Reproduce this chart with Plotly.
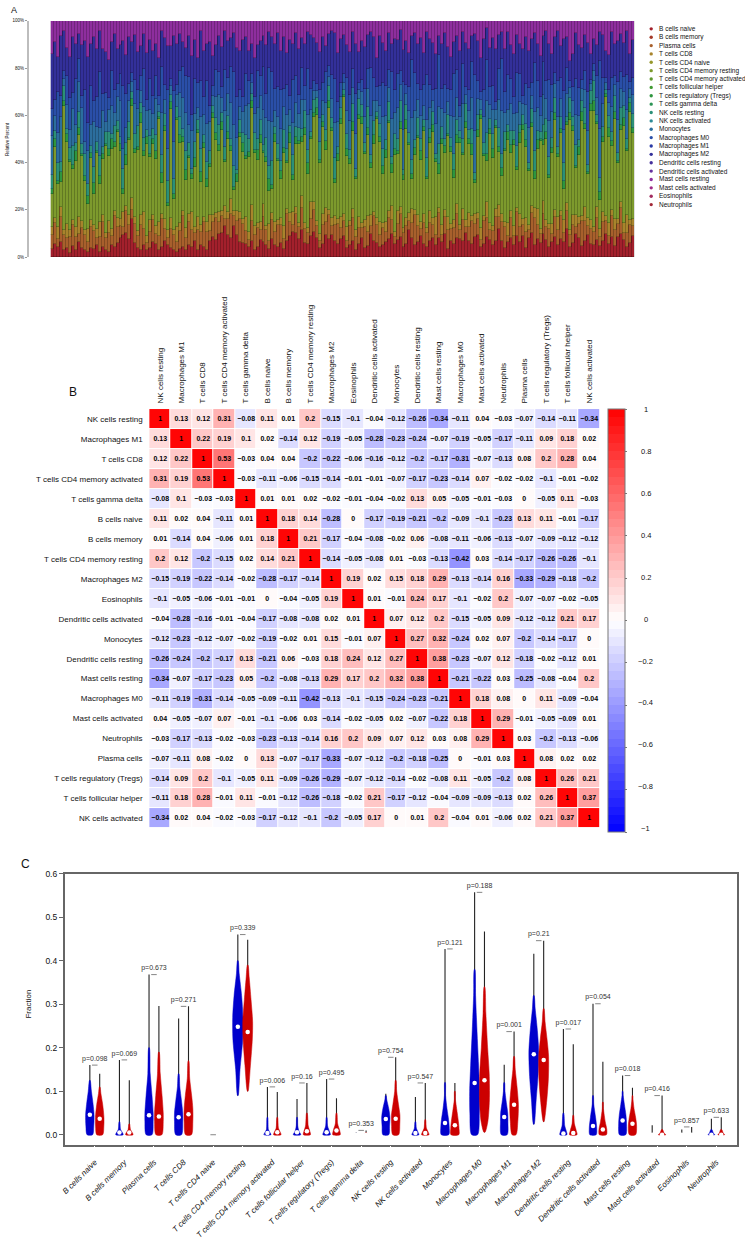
import plotly.graph_objects as go

W, H = 745, 1240
FONT = "Liberation Sans"

# panel A: all 22 cell types, bars are stacked from the bands that can be read
cell_types = ["B cells naive", "B cells memory", "Plasma cells", "T cells CD8", "T cells CD4 naive",
              "T cells CD4 memory resting", "T cells CD4 memory activated", "T cells follicular helper",
              "T cells regulatory (Tregs)", "T cells gamma delta", "NK cells resting", "NK cells activated",
              "Monocytes", "Macrophages M0", "Macrophages M1", "Macrophages M2", "Dendritic cells resting",
              "Dendritic cells activated", "Mast cells resting", "Mast cells activated", "Eosinophils", "Neutrophils"]
type_colors = ["#a3202c", "#a53a28", "#a8602c", "#a8842c", "#96982c", "#7d9a2d", "#5f982f", "#409a32", "#2e963f",
               "#2c9455", "#2c9078", "#2c8a96", "#2c6e9e", "#2a4fa8", "#2a3aa6", "#33309a", "#45309c", "#64309e",
               "#8e2e9e", "#a02c88", "#a22c60", "#a22838"]

b_cells = [3,5,4,6,3,4,2,5,3,6,4,3,2,4, 3,5,2,4,3,2,5,4,6,8,9,10,8,16, 6,4,3,5,3,4,6,5,3,4,7,5,4,3,
           2,3,4,3,5,4,6,3,5,4,3,6,8,7, 9,11,12,10,8,13,9,7,6,5,4,7,3,4, 7,6,5,3,8,5,4,6,3,7,9,11,10,8,
           11,6,5,9,12,8,4,6,10,8,9,7,6,8, 9,4,5,7,3,6,8,4,5,9,7,6,4,5, 6,8,10,5,7,9,4,6,11,8,5,7,9,6,
           4,7,9,5,8,6,10,4,7,5,9,8,6,11, 7,5,8,10,4,6,9,7,5,8,12,6,4,7, 8,5,9,6,10,4,7,11,5,8,6,9,7,4,
           6,9,5,8,7,11,4,6,10,8,5,7,9,6, 5,8,4,7,10,6,9,5,8,11,7,4,6,9]
plasma = [5,8,3,10,6,4,7,9,5,3,8,6,4,9, 7,3,6,10,5,8,4,12,7,5,3,9,6,4, 8,5,10,6,3,7,9,4,6,11,5,3,8,6,
          4,7,12,5,9,6,3,8,5,10,7,4,6,9, 5,8,3,7,10,4,6,11,8,5,3,9,6,7, 4,10,6,3,8,5,9,7,4,12,6,3,8,5,
          9,6,4,7,10,5,3,8,6,11,4,7,9,5, 6,3,8,10,5,7,4,9,6,3,11,8,5,7, 4,9,6,3,7,10,5,8,4,6,12,7,3,9,
          5,8,6,4,10,3,7,9,5,6,11,4,8,3, 6,9,5,7,3,10,8,4,6,12,5,7,9,3, 8,4,10,6,5,7,3,9,11,6,4,8,5,7,
          3,9,6,10,4,7,5,8,3,6,11,9,4,7, 5,10,3,8,6,4,9,7,5,12,3,6,8,4]
cd8 = [3,2,5,4,2,6,3,2,4,7,3,2,5,3, 2,4,6,3,2,5,3,2,4,3,6,2,4,5, 3,2,4,7,3,5,2,3,6,2,4,3,5,2,
       6,3,2,4,3,7,2,5,3,2,4,6,3,2, 4,2,5,3,6,2,4,3,2,5,3,7,4,2, 3,5,2,6,3,4,2,3,5,2,4,6,3,2,
       5,3,2,7,4,2,3,5,6,2,3,4,2,5, 3,6,2,4,3,5,2,3,7,4,2,3,5,2, 4,3,6,2,5,3,2,4,3,6,2,5,3,4,
       2,5,3,7,2,4,3,6,2,3,5,2,4,3, 6,2,4,3,5,2,7,3,2,4,5,3,2,6, 3,4,2,5,3,6,2,3,4,7,2,5,3,2,
       4,3,5,2,6,3,2,4,5,3,2,6,3,4, 2,5,3,4,2,6,3,5,2,3,4,7,2,3]
cd4_resting = [12,27,17,10,49,34,30,22,26,32,27,20,10,27, 12,32,15,22,36,27,34,25,37,28,7,17,32,39,
               27,34,37,22,40,27,28,26,44,12,37,10,47,12, 42,30,27,20,22,12,22,34,17,27,14,18,39,30,
               24,37,17,32,20,9,12,35,28,22,30,42,30,24, 32,20,26,12,10,32,24,16,28,20,30,14,26,34,
               22,38,20,26,40,44,30,38,26,46,36,14,26,42, 49,30,24,34,20,44,40,28,36,18,30,42,32,20,
               26,38,14,30,24,34,18,40,28,12,22,34,26,36, 18,30,40,22,14,32,24,38,30,16,28,36,20,42,
               30,24,12,34,44,26,18,36,28,40,22,14,30,38, 24,34,16,28,42,30,20,36,12,26,38,22,32,18,
               28,40,24,34,14,30,44,36,20,26,42,34,18,50, 46,38,10,30,52,40,28,44,22,34,40,26,46,36]
tregs = [2,3,1,4,2,3,1,2,4,3,1,2,3,2, 4,1,3,2,1,3,4,2,1,3,2,4,1,3, 2,1,4,2,3,1,2,3,1,4,2,1,3,2,
         1,3,2,4,1,2,3,1,4,2,3,1,2,3, 2,4,1,3,2,1,3,2,4,1,2,3,1,4, 3,1,2,4,2,3,1,3,2,1,4,2,3,1,
         2,3,4,1,2,3,1,2,4,3,1,2,3,2, 1,3,2,4,1,2,3,1,3,2,4,1,2,3, 3,1,4,2,1,3,2,4,1,2,3,1,4,2,
         1,2,3,1,4,2,3,1,2,3,4,2,1,3, 2,4,1,3,2,1,3,2,4,1,2,3,1,4, 3,2,1,4,2,3,1,2,3,4,1,2,3,1,
         2,3,1,2,4,1,3,2,1,3,4,2,1,3, 4,1,3,2,1,4,2,3,1,2,3,1,4,2]
nk_resting = [5,3,7,4,6,2,5,8,3,6,4,9,5,3, 6,4,8,3,5,7,2,6,4,3,8,5,7,3, 6,9,4,5,3,8,4,6,2,7,5,9,3,6,
              4,7,3,8,5,2,6,4,9,3,7,5,3,6, 8,4,5,7,3,9,2,6,4,8,5,3,7,4, 6,2,8,5,10,3,6,4,7,5,3,9,4,6,
              3,7,5,2,6,4,8,3,5,7,4,9,3,5, 2,6,4,8,3,7,5,4,9,3,6,2,5,7, 4,8,3,6,5,9,2,7,4,6,3,8,5,3,
              7,4,6,2,8,5,3,9,4,6,7,3,5,8, 4,6,3,7,2,5,9,4,6,3,8,5,7,3, 6,4,9,3,5,7,2,6,8,4,3,6,5,7,
              4,7,3,5,8,2,6,4,9,3,5,7,3,6, 8,3,5,4,2,6,4,7,3,8,5,4,2,6]
monocytes = [14,6,12,18,3,10,8,16,7,12,15,5,13,9, 17,6,11,14,4,9,12,5,10,15,8,6,9,4, 13,7,5,12,8,11,6,14,3,16,6,13,4,15,
             5,9,12,16,7,14,10,5,13,8,15,11,4,9, 12,7,14,10,15,17,13,6,9,11,14,5,8,12, 10,14,8,16,17,6,11,13,9,15,7,14,10,6,
             12,5,13,9,4,3,10,6,12,4,8,15,11,5, 3,10,12,7,14,4,5,11,8,15,9,5,7,13, 10,6,16,8,13,7,15,5,9,17,12,8,10,6,
             14,9,5,12,15,7,11,6,9,14,10,6,13,4, 8,12,16,7,4,11,14,6,10,5,12,16,8,7, 11,7,14,9,5,8,13,6,16,10,7,12,8,14,
             10,6,12,8,15,9,4,7,13,10,5,8,14,3, 4,8,17,10,3,6,11,5,13,9,6,12,4,8]
m0 = [10,6,16,8,3,12,14,7,18,9,5,21,11,17, 8,13,22,7,12,5,15,9,6,11,25,14,7,4, 10,8,6,15,5,13,7,9,4,18,6,24,3,20,
      4,8,12,15,19,6,13,10,14,7,17,6,4,11, 9,5,16,7,15,22,17,8,6,12,9,4,7,14, 8,17,10,19,21,9,12,16,7,13,6,19,11,8,
      13,6,17,9,5,3,12,8,14,5,10,19,9,6, 4,14,11,8,16,3,5,12,9,18,10,6,8,14, 12,8,20,9,14,6,18,4,10,24,15,7,11,9,
      17,10,5,14,21,8,12,6,11,16,13,5,15,4, 9,14,22,8,3,12,18,7,10,4,13,19,9,16, 10,7,17,11,4,9,15,6,20,12,8,13,7,16,
      11,5,14,9,18,10,3,6,15,12,4,8,16,2, 3,10,24,11,2,6,13,4,15,8,6,14,3,7]
m2 = [20,22,14,24,16,12,18,24,14,10,21,20,26,18, 24,20,16,18,17,16,12,22,15,12,18,16,20,13, 19,16,12,14,20,17,18,12,16,14,20,18,14,22,
      16,14,10,12,16,22,14,10,20,18,15,24,12,10, 14,18,15,16,12,16,20,18,24,14,12,13,16,10, 14,12,20,13,15,18,22,16,20,14,24,16,18,20,
      12,18,14,22,20,17,16,20,12,14,18,20,22,20, 16,14,18,16,20,14,16,18,15,14,18,12,20,16, 14,16,12,20,14,18,12,20,14,10,16,18,22,14,
      16,20,22,14,8,18,22,20,14,12,16,24,12,20, 18,10,16,18,14,22,14,16,20,26,14,10,18,20, 14,18,16,12,22,20,14,20,12,16,18,10,20,14,
      12,16,20,14,24,12,8,14,20,18,14,16,20,12, 10,14,10,18,12,16,20,14,16,18,14,18,12,16]
mast_resting = [12,8,14,6,4,11,16,7,9,5,10,8,14,10, 6,12,4,11,13,16,9,5,12,10,8,14,7,9, 6,13,10,5,14,8,12,9,16,4,7,10,11,6,
                9,5,8,11,6,13,7,15,4,12,9,8,14,10, 6,12,4,9,7,5,11,14,8,6,12,10,15,9, 8,6,10,4,7,9,5,12,6,14,8,10,5,12,
                7,10,4,6,8,9,13,7,11,6,4,5,14,8, 6,10,13,5,9,14,8,11,6,4,7,16,6,9, 12,5,10,7,8,4,11,9,13,6,5,10,7,14,
                4,8,10,13,6,9,5,12,15,8,7,13,4,10, 12,6,5,9,15,8,3,11,7,14,6,4,12,5, 10,14,6,9,13,7,11,8,5,10,15,6,4,9,
                13,7,4,11,8,6,16,14,5,10,12,6,9,15, 7,11,4,6,13,16,5,10,8,6,9,4,14,8]

bar_series = [(0, b_cells), (2, plasma), (3, cd8), (5, cd4_resting), (8, tregs), (10, nk_resting),
              (12, monocytes), (13, m0), (15, m2), (18, mast_resting)]
percent_ticks = [0, 20, 40, 60, 80, 100]
percent_labels = ["0%", "20%", "40%", "60%", "80%", "100%"]

# panel B: correlation matrix
corr_labels = ["NK cells resting", "Macrophages M1", "T cells CD8", "T cells CD4 memory activated", "T cells gamma delta",
               "B cells naive", "B cells memory", "T cells CD4 memory resting", "Macrophages M2", "Eosinophils",
               "Dendritic cells activated", "Monocytes", "Dendritic cells resting", "Mast cells resting", "Macrophages M0",
               "Mast cells activated", "Neutrophils", "Plasma cells", "T cells regulatory (Tregs)",
               "T cells follicular helper", "NK cells activated"]
corr = [
    [1, .13, .12, .31, -.08, .11, .01, .2, -.15, -.1, -.04, -.12, -.26, -.34, -.11, .04, -.03, -.07, -.14, -.11, -.34],
    [.13, 1, .22, .19, .1, .02, -.14, .12, -.19, -.05, -.28, -.23, -.24, -.07, -.19, -.05, -.17, -.11, .09, .18, .02],
    [.12, .22, 1, .53, -.03, .04, .04, -.2, -.22, -.06, -.16, -.12, -.2, -.17, -.31, -.07, -.13, .08, .2, .28, .04],
    [.31, .19, .53, 1, -.03, -.11, -.06, -.15, -.14, -.01, -.01, -.07, -.17, -.23, -.14, .07, -.02, -.02, -.1, -.01, -.02],
    [-.08, .1, -.03, -.03, 1, .01, .01, .02, -.02, -.01, -.04, -.02, .13, .05, -.05, -.01, -.03, 0, -.05, .11, -.03],
    [.11, .02, .04, -.11, .01, 1, .18, .14, -.28, 0, -.17, -.19, -.21, -.2, -.09, -.1, -.23, .13, .11, -.01, -.17],
    [.01, -.14, .04, -.06, .01, .18, 1, .21, -.17, -.04, -.08, -.02, .06, -.08, -.11, -.06, -.13, -.07, -.09, -.12, -.12],
    [.2, .12, -.2, -.15, .02, .14, .21, 1, -.14, -.05, -.08, .01, -.03, -.13, -.42, .03, -.14, -.17, -.26, -.26, -.1],
    [-.15, -.19, -.22, -.14, -.02, -.28, -.17, -.14, 1, .19, .02, .15, .18, .29, -.13, -.14, .16, -.33, -.29, -.18, -.2],
    [-.1, -.05, -.06, -.01, -.01, 0, -.04, -.05, .19, 1, .01, -.01, .24, .17, -.1, -.02, .2, -.07, -.07, -.02, -.05],
    [-.04, -.28, -.16, -.01, -.04, -.17, -.08, -.08, .02, .01, 1, .07, .12, .2, -.15, -.05, .09, -.12, -.12, .21, .17],
    [-.12, -.23, -.12, -.07, -.02, -.19, -.02, .01, .15, -.01, .07, 1, .27, .32, -.24, .02, .07, -.2, -.14, -.17, 0],
    [-.26, -.24, -.2, -.17, .13, -.21, .06, -.03, .18, .24, .12, .27, 1, .38, -.23, -.07, .12, -.18, -.02, -.12, .01],
    [-.34, -.07, -.17, -.23, .05, -.2, -.08, -.13, .29, .17, .2, .32, .38, 1, -.21, -.22, .03, -.25, -.08, -.04, .2],
    [-.11, -.19, -.31, -.14, -.05, -.09, -.11, -.42, -.13, -.1, -.15, -.24, -.23, -.21, 1, .18, .08, 0, .11, -.09, -.04],
    [.04, -.05, -.07, .07, -.01, -.1, -.06, .03, -.14, -.02, -.05, .02, -.07, -.22, .18, 1, .29, -.01, -.05, -.09, .01],
    [-.03, -.17, -.13, -.02, -.03, -.23, -.13, -.14, .16, .2, .09, .07, .12, .03, .08, .29, 1, .03, -.2, -.13, -.06],
    [-.07, -.11, .08, -.02, 0, .13, -.07, -.17, -.33, -.07, -.12, -.2, -.18, -.25, 0, -.01, .03, 1, .08, .02, .02],
    [-.14, .09, .2, -.1, -.05, .11, -.09, -.26, -.29, -.07, -.12, -.14, -.02, -.08, .11, -.05, -.2, .08, 1, .26, .21],
    [-.11, .18, .28, -.01, .11, -.01, -.12, -.26, -.18, -.02, .21, -.17, -.12, -.04, -.09, -.09, -.13, .02, .26, 1, .37],
    [-.34, .02, .04, -.02, -.03, -.17, -.12, -.1, -.2, -.05, .17, 0, .01, .2, -.04, .01, -.06, .02, .21, .37, 1],
]
cbar_ticks = [1, .8, .6, .4, .2, 0, -.2, -.4, -.6, -.8, -1]

# panel C: violins, top of the thin line, median, and (fraction, half width) outlines bottom to top
blue_top = [.16, .172, .368, .267, 0, .46, .11, .082, .128, .005, .094, .087, .427, .557, .161, .416, .243, .301, .136, .022, .012, .037]
red_top = [.14, .125, .296, .295, 0, .448, .098, .119, .084, .01, .178, .119, .119, .467, .237, .446, .208, .168, .108, .09, .018, .04]
blue_med = [.046, .005, .045, .04, 0, .248, .004, .006, .006, 0, .036, .004, .027, .119, .041, .185, .003, .02, .033, 0, 0, 0]
red_med = [.037, .005, .042, .047, 0, .236, .006, .008, .01, 0, .037, .004, .022, .125, .069, .172, .004, .012, .025, 0, 0, 0]
p_values = ["p=0.098", "p=0.069", "p=0.673", "p=0.271", "", "p=0.339", "p=0.006", "p=0.16", "p=0.495", "p=0.353", "p=0.754",
            "p=0.547", "p=0.121", "p=0.188", "p=0.001", "p=0.21", "p=0.017", "p=0.054", "p=0.018", "p=0.416", "p=0.857", "p=0.633"]
blue_shapes = [
    [(0, .28), (.02, .4), (.045, .43), (.07, .33), (.1, .16), (.125, .03)],
    [(0, .38), (.005, .3), (.012, .12), (.03, .03)],
    [(0, .3), (.03, .42), (.05, .42), (.09, .3), (.14, .12), (.2, .03)],
    [(0, .3), (.03, .42), (.05, .42), (.08, .28), (.11, .12), (.14, .03)],
    [],
    [(.09, .03), (.15, .22), (.22, .5), (.27, .52), (.32, .38), (.37, .14), (.4, .03)],
    [(0, .36), (.005, .26), (.012, .1), (.04, .03)],
    [(0, .38), (.008, .2), (.02, .08), (.04, .03)],
    [(0, .38), (.007, .3), (.02, .1), (.04, .03)],
    [(0, .12), (.004, .03)],
    [(0, .3), (.02, .38), (.04, .42), (.06, .3), (.08, .1), (.09, .03)],
    [(0, .36), (.006, .26), (.015, .1), (.03, .03)],
    [(0, .38), (.02, .42), (.035, .36), (.06, .2), (.09, .06), (.12, .03)],
    [(0, .3), (.05, .48), (.1, .5), (.16, .4), (.24, .24), (.32, .1), (.38, .03)],
    [(0, .3), (.03, .38), (.05, .36), (.08, .18), (.1, .08), (.12, .03)],
    [(.024, .03), (.08, .24), (.14, .44), (.19, .5), (.24, .36), (.29, .14), (.32, .03)],
    [(0, .36), (.008, .3), (.02, .14), (.05, .03)],
    [(0, .32), (.015, .38), (.04, .26), (.07, .08), (.09, .03)],
    [(0, .32), (.025, .4), (.045, .34), (.07, .18), (.09, .06), (.1, .03)],
    [(0, .04), (.003, .03)],
    [(0, .08), (.002, .03)],
    [(0, .34), (.004, .2), (.012, .05)],
]
red_shapes = [
    [(0, .3), (.02, .42), (.04, .43), (.07, .3), (.095, .12), (.11, .03)],
    [(0, .38), (.005, .3), (.012, .12), (.025, .03)],
    [(0, .3), (.03, .44), (.05, .44), (.09, .32), (.14, .14), (.19, .03)],
    [(0, .3), (.03, .44), (.06, .44), (.09, .32), (.13, .12), (.17, .03)],
    [],
    [(.1, .03), (.16, .28), (.22, .47), (.26, .5), (.31, .34), (.36, .16), (.39, .03)],
    [(0, .38), (.006, .3), (.015, .12), (.04, .03)],
    [(0, .36), (.008, .3), (.02, .14), (.05, .03)],
    [(0, .38), (.01, .32), (.025, .12), (.05, .03)],
    [(0, .12), (.005, .03)],
    [(0, .3), (.025, .42), (.045, .43), (.07, .28), (.1, .1), (.125, .03)],
    [(0, .38), (.006, .3), (.015, .12), (.035, .03)],
    [(0, .4), (.015, .42), (.03, .36), (.06, .18), (.08, .06), (.1, .03)],
    [(.006, .06), (.03, .34), (.08, .5), (.14, .48), (.2, .32), (.28, .14), (.34, .03)],
    [(0, .2), (.03, .38), (.07, .44), (.11, .3), (.15, .12), (.18, .03)],
    [(.03, .03), (.08, .32), (.13, .48), (.18, .5), (.22, .34), (.26, .14), (.29, .03)],
    [(0, .38), (.01, .3), (.025, .12), (.045, .03)],
    [(0, .36), (.012, .4), (.03, .24), (.06, .06), (.075, .03)],
    [(0, .32), (.02, .42), (.04, .32), (.06, .16), (.08, .06), (.09, .03)],
    [(0, .38), (.004, .2), (.012, .05)],
    [(0, .08), (.002, .03)],
    [(0, .34), (.004, .2), (.012, .05)],
]


def px(x):
    return x / W


def py(y):
    return 1 - y / H


def violin_outline(shapes, offset):
    xs, ys = [], []
    for i, s in enumerate(shapes):
        if not s:
            continue
        c = 3 * i + offset
        xs += [c + w for _, w in s] + [c - w for _, w in reversed(s)] + [c + s[0][1], None]
        ys += [v for v, _ in s] + [v for v, _ in reversed(s)] + [s[0][0], None]
    return xs, ys


def step_scale(n):
    stops = []
    for k in range(n):
        t = (k + 0.5) / n
        if t < 0.5:
            g = int(round(255 * t / 0.5))
            c = f"rgb({g},{g},255)"
        else:
            g = int(round(255 * (1 - t) / 0.5))
            c = f"rgb(255,{g},{g})"
        stops += [[k / n, c], [(k + 1) / n, c]]
    return stops


def cell_text(v):
    return f"{v:g}".replace("-", "\u2212")


fig = go.Figure()

# A stacked bars
for idx, vals in bar_series:
    fig.add_trace(go.Bar(x=list(range(len(vals))), y=vals, name=cell_types[idx], showlegend=False,
                         marker=dict(color=type_colors[idx], line=dict(color="rgba(0,0,0,0.35)", width=0.6)),
                         xaxis="x", yaxis="y"))

# B correlation heatmap
fig.add_trace(go.Heatmap(z=corr, x=corr_labels, y=corr_labels, zmin=-1, zmax=1, colorscale=step_scale(50),
                         xgap=1, ygap=1, text=[[cell_text(v) for v in row] for row in corr], texttemplate="%{text}",
                         textfont=dict(family=FONT, size=7, color="black", weight="bold"), xaxis="x2", yaxis="y2",
                         colorbar=dict(x=px(607), xanchor="left", xpad=0, thickness=17, lenmode="pixels", len=423,
                                       y=py(407), yanchor="top", ypad=0, outlinecolor="#777", outlinewidth=1,
                                       tickvals=cbar_ticks, ticks="outside", ticklen=2, tickcolor="#777",
                                       showticklabels=False)))

# C violins
groups = [3 * i + 1.5 for i in range(len(cell_types))]
line_x, line_y = [], []
for i in range(len(cell_types)):
    for offset, top, shape in ((1, blue_top[i], blue_shapes[i]), (2, red_top[i], red_shapes[i])):
        if shape:
            line_x += [3 * i + offset, 3 * i + offset, None]
            line_y += [shape[0][0], top, None]
fig.add_trace(go.Scatter(x=line_x, y=line_y, mode="lines", line=dict(color="#222", width=1.1), showlegend=False,
                         xaxis="x3", yaxis="y3"))
for shapes, offset, color in ((blue_shapes, 1, "#0000cc"), (red_shapes, 2, "#cc0000")):
    xs, ys = violin_outline(shapes, offset)
    fig.add_trace(go.Scatter(x=xs, y=ys, mode="lines", fill="toself", fillcolor=color,
                             line=dict(color=color, width=0.5, shape="spline", smoothing=0.8), showlegend=False,
                             xaxis="x3", yaxis="y3"))
for meds, offset in ((blue_med, 1), (red_med, 2)):
    keep = [i for i in range(len(meds)) if blue_shapes[i]]
    fig.add_trace(go.Scatter(x=[3 * i + offset for i in keep], y=[meds[i] for i in keep], mode="markers",
                             marker=dict(color="white", size=4.5), showlegend=False, xaxis="x3", yaxis="y3"))

# p value dashes and labels
p_top = [max(b, r) for b, r in zip(blue_top, red_top)]
dash_x, dash_y = [], []
for g, t in zip(groups, p_top):
    dash_x += [g - 0.28, g + 0.28, None]
    dash_y += [t, t, None]
fig.add_trace(go.Scatter(x=dash_x, y=dash_y, mode="lines", line=dict(color="#666", width=0.8), showlegend=False,
                         xaxis="x3", yaxis="y3"))
fig.add_trace(go.Scatter(x=groups, y=[t + 0.006 for t in p_top], mode="text", text=p_values, textposition="top center",
                         textfont=dict(family=FONT, size=7, color="#333"), showlegend=False, cliponaxis=False,
                         xaxis="x3", yaxis="y3"))

annotations = [
    dict(text="A", x=px(10), y=py(5), font=dict(size=9)),
    dict(text="B", x=px(69), y=py(390), font=dict(size=12)),
    dict(text="C", x=px(22), y=py(865), font=dict(size=12)),
    dict(text="Relative Percent", x=px(3), y=py(135), textangle=-90, font=dict(size=4.5)),
    dict(text="Fraction", x=px(25), y=py(1006), textangle=-90, font=dict(size=8)),
]
shapes = []
for i, name in enumerate(cell_types):
    yy = 24 + i * 8.43
    annotations.append(dict(text=name, x=px(656.5), y=py(yy), xanchor="left", font=dict(size=6.5)))
    shapes.append(dict(type="circle", xref="paper", yref="paper", x0=px(649), x1=px(652.4), y0=py(yy - 1.7), y1=py(yy + 1.7),
                       fillcolor=type_colors[i], line=dict(width=0)))
for v in cbar_ticks:
    annotations.append(dict(text=cell_text(v), x=px(645), y=py(407 + (1 - v) / 2 * 423), font=dict(size=7.5)))
for a in annotations:
    a.update(xref="paper", yref="paper", showarrow=False)
    a.setdefault("xanchor", "center")
    a.setdefault("yanchor", "middle")
    a["font"].update(family=FONT, color="#111")

fig.update_layout(
    width=W, height=H, margin=dict(l=0, r=0, t=0, b=0, pad=0), paper_bgcolor="white", plot_bgcolor="white",
    barmode="stack", barnorm="percent", bargap=0, font=dict(family=FONT, color="#111"), showlegend=False,
    annotations=annotations, shapes=shapes,
    xaxis=dict(domain=[px(47), px(634)], range=[-0.5, 195.5], visible=False),
    yaxis=dict(domain=[py(254), py(16)], range=[0, 100], anchor="free", position=px(24), tickvals=percent_ticks,
               ticktext=percent_labels, tickfont=dict(size=4.5), showline=True, linecolor="#bdbdbd", linewidth=2,
               ticks="outside", ticklen=2, tickcolor="#999", showgrid=False, zeroline=False),
    xaxis2=dict(domain=[px(146), px(599)], anchor="y2", side="top", tickangle=-90, tickfont=dict(size=8), ticks="outside",
                ticklen=3, tickcolor="white", showgrid=False, zeroline=False),
    yaxis2=dict(domain=[py(829.5), py(407)], anchor="x2", autorange="reversed", tickfont=dict(size=8), ticks="outside",
                ticklen=4, tickcolor="white", showgrid=False, zeroline=False),
    xaxis3=dict(domain=[px(61), px(737)], anchor="y3", range=[-1.551, 66.6], tickvals=groups, ticktext=cell_types,
                tickangle=-45, tickfont=dict(size=8, style="italic"), ticks="outside", ticklen=8, tickcolor="white",
                showline=True, mirror=True, linecolor="#666", linewidth=1.5, showgrid=False, zeroline=False),
    yaxis3=dict(domain=[py(1148), py(875)], anchor="x3", range=[-0.0228, 0.6], tickvals=[0, .1, .2, .3, .4, .5, .6],
                ticktext=["0.0", "0.1", "0.2", "0.3", "0.4", "0.5", "0.6"], tickfont=dict(size=8.5), ticks="outside",
                ticklen=4, tickcolor="#666", showline=True, mirror=True, linecolor="#666", linewidth=1.5,
                showgrid=False, zeroline=False),
)

fig.write_html("out.html", config={"displayModeBar": False}, post_script="document.body.style.margin='0';")
